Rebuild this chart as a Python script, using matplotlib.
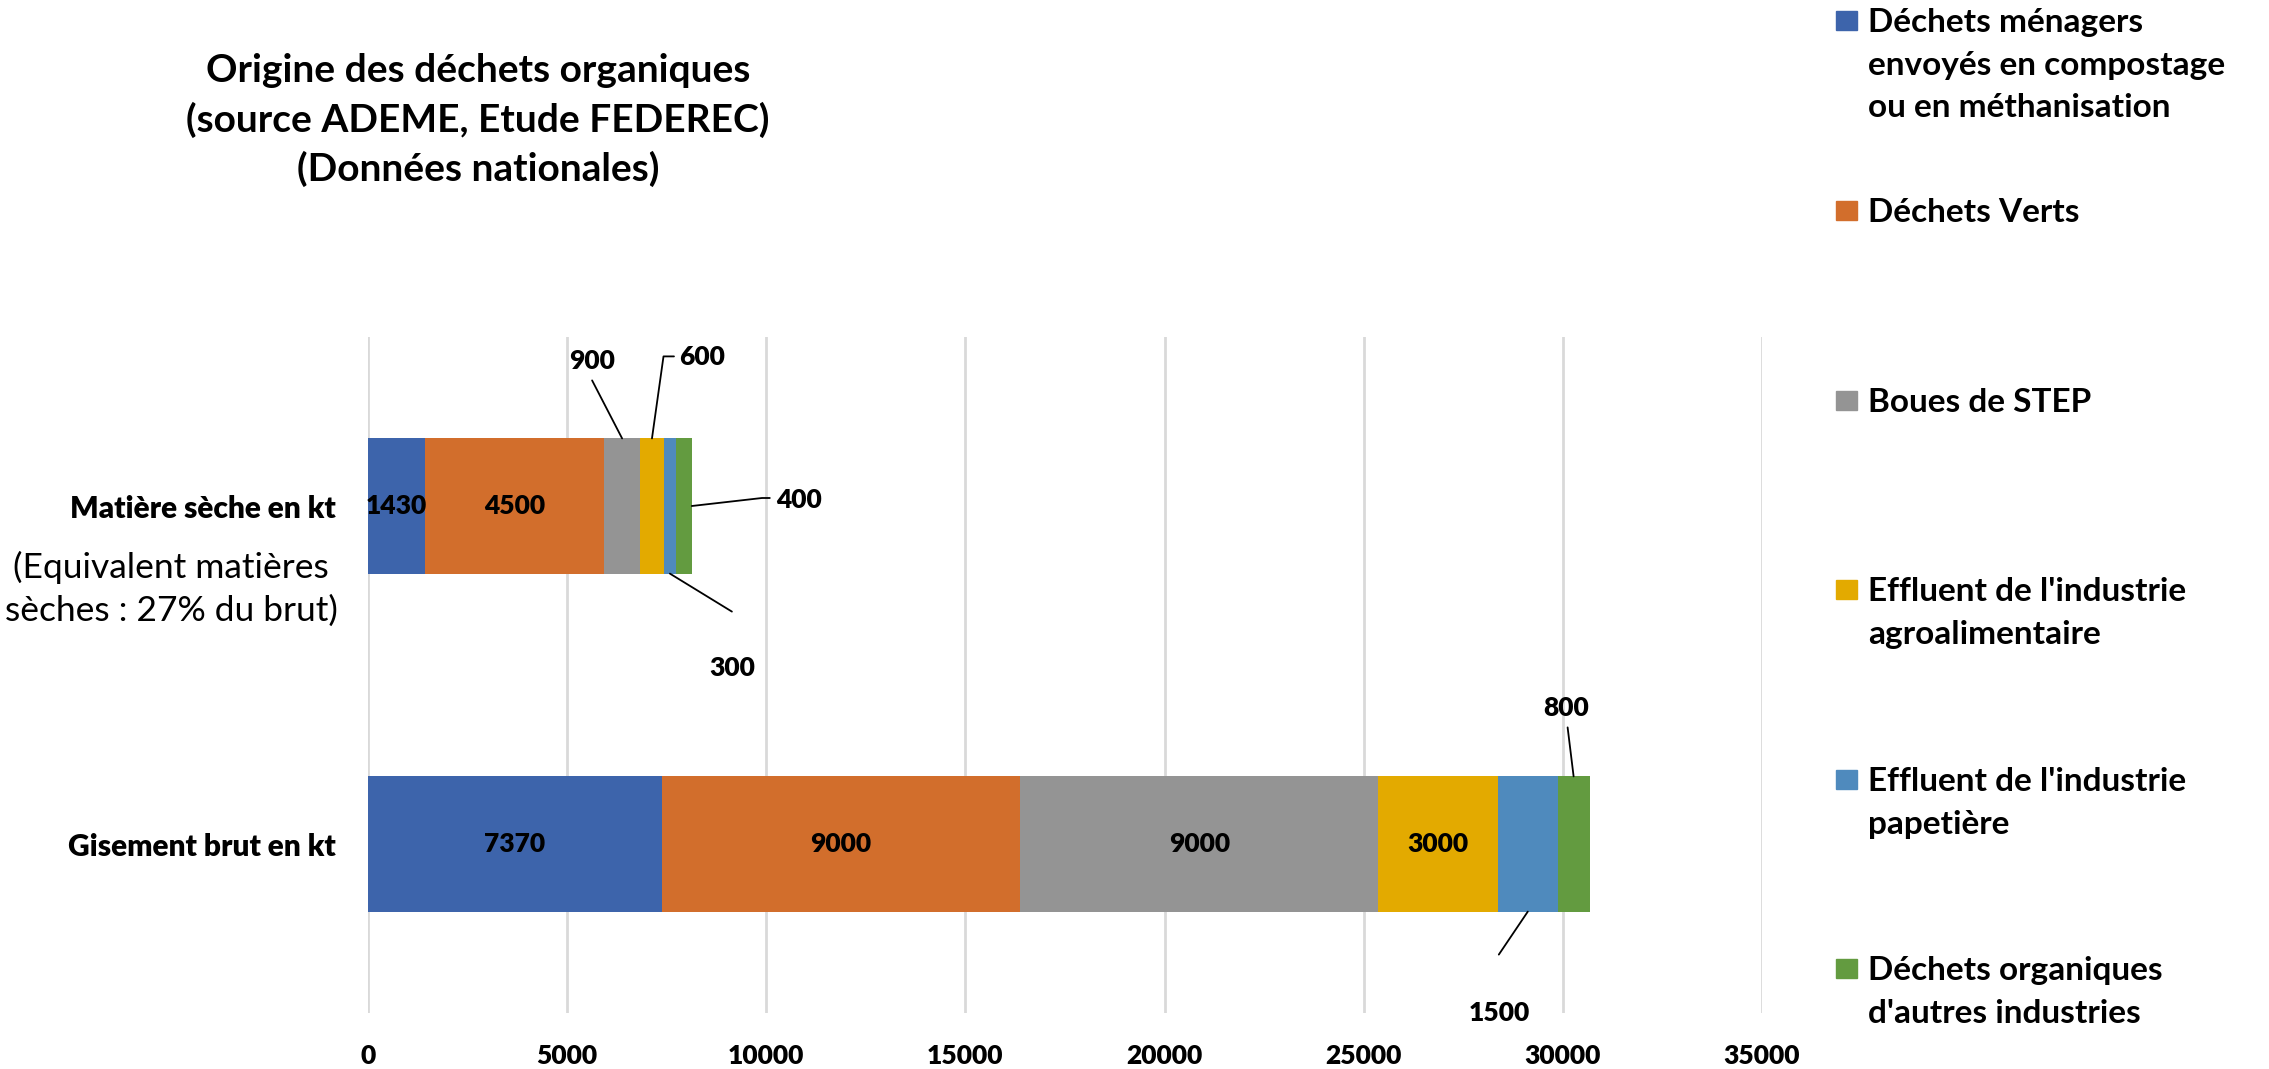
import matplotlib
matplotlib.use("Agg")
import matplotlib.pyplot as plt
from matplotlib.patches import Rectangle
import numpy as np

plt.rcParams['font.family'] = ['Lato', 'DejaVu Sans']

# Data
categories = ["Gisement brut en kt", "Matière sèche en kt"]
series = ["Déchets ménagers\nenvoyés en compostage\nou en méthanisation",
          "Déchets Verts",
          "Boues de STEP",
          "Effluent de l'industrie\nagroalimentaire",
          "Effluent de l'industrie\npapetière",
          "Déchets organiques\nd'autres industries"]
gisement = [7370, 9000, 9000, 3000, 1500, 800]
matiere = [1430, 4500, 900, 600, 300, 400]
colors = ["#3D64AB", "#D26E2C", "#949494", "#E3AA00", "#4F8ABD", "#639B40"]
xticks = [0, 5000, 10000, 15000, 20000, 25000, 30000, 35000]

W, H = 2269, 1069
fig = plt.figure(figsize=(W / 100, H / 100), dpi=100)
ax = fig.add_axes([368 / W, 1 - 1013 / H, (1762 - 368) / W, (1013 - 337) / H])

values = np.array([gisement, matiere])  # rows = categories
ypos = np.arange(len(categories))
bar_h = 0.40
lefts = np.zeros(len(categories))
for i in range(len(series)):
    ax.barh(ypos, values[:, i], left=lefts, height=bar_h,
            color=colors[i], edgecolor='none', zorder=3)
    lefts = lefts + values[:, i]

num_w = 'heavy'
ax.set_xlim(0, 35000)
ax.set_ylim(-0.5, 1.5)
ax.set_xticks(xticks)
ax.set_xticklabels([str(t) for t in xticks], fontsize=19, fontweight=num_w)
ax.set_yticks(ypos)
ax.set_yticklabels(categories, fontsize=21.5, fontweight=num_w)
ax.tick_params(axis='x', length=0, pad=22)
ax.tick_params(axis='y', length=0, pad=23)
ax.grid(axis='x', color='#D9D9D9', linewidth=2, zorder=0)
for s in ax.spines.values():
    s.set_visible(False)

# labels inside the big segments
inside = {0: [0, 1, 2, 3], 1: [0, 1]}
for c, idxs in inside.items():
    starts = np.concatenate([[0], np.cumsum(values[c])[:-1]])
    for i in idxs:
        ax.text(starts[i] + values[c, i] / 2, ypos[c], str(values[c, i]),
                ha='center', va='center', fontsize=19, fontweight=num_w, zorder=4)

# outside labels with leader lines:
# (cat, series, anchor side, text offset px, line end offset px, connection)
outside = [
    (1, 2, 'top', (-30, 77), (-30, 58), None),
    (1, 3, 'top', (50, 81), (22, 82), "angle,angleA=0,angleB=82,rad=0"),
    (1, 5, 'right', (107, 6), (78, 8), "angle,angleA=0,angleB=6.5,rad=0"),
    (1, 4, 'bottom', (62, -94), (62, -38), None),
    (0, 5, 'top', (-7, 68), (-6, 49), None),
    (0, 4, 'bottom', (-28, -101), (-29, -43), None),
]
for c, i, where, toff, loff, conn in outside:
    start = np.sum(values[c, :i])
    if where == 'right':
        xy = (start + values[c, i], ypos[c])
    elif where == 'top':
        xy = (start + values[c, i] / 2, ypos[c] + bar_h / 2)
    else:
        xy = (start + values[c, i] / 2, ypos[c] - bar_h / 2)
    ap = dict(arrowstyle='-', color='black', lw=1.3, shrinkA=0, shrinkB=0)
    if conn:
        ap['connectionstyle'] = conn
    ax.annotate('', xy=xy, xytext=loff, textcoords='offset pixels',
                arrowprops=ap, zorder=5)
    ax.annotate(str(values[c, i]), xy=xy, xytext=toff, textcoords='offset pixels',
                ha='center', va='center', fontsize=19, fontweight=num_w, zorder=5)

# note under "Matière sèche"
fig.text(171 / W, 1 - 589 / H, "(Equivalent matières\nsèches : 27% du brut)",
         ha='center', va='center', fontsize=25.5, linespacing=1.38)

# title
fig.text(478 / W, 1 - 120 / H,
         "Origine des déchets organiques\n(source ADEME, Etude FEDEREC)\n(Données nationales)",
         ha='center', va='center', fontsize=28, fontweight='bold', linespacing=1.45)

# legend drawn on the right
leg_y = [20, 210, 400, 589, 779, 968]
for i, name in enumerate(series):
    yc = leg_y[i]
    fig.patches.append(Rectangle((1836 / W, 1 - (yc + 10) / H), 21 / W, 19 / H,
                                 transform=fig.transFigure, color=colors[i]))
    fig.text(1868 / W, 1 - (yc - 12) / H, name, ha='left', va='top',
             fontsize=24, fontweight='bold', linespacing=1.57)

fig.savefig("out.png", dpi=100)
